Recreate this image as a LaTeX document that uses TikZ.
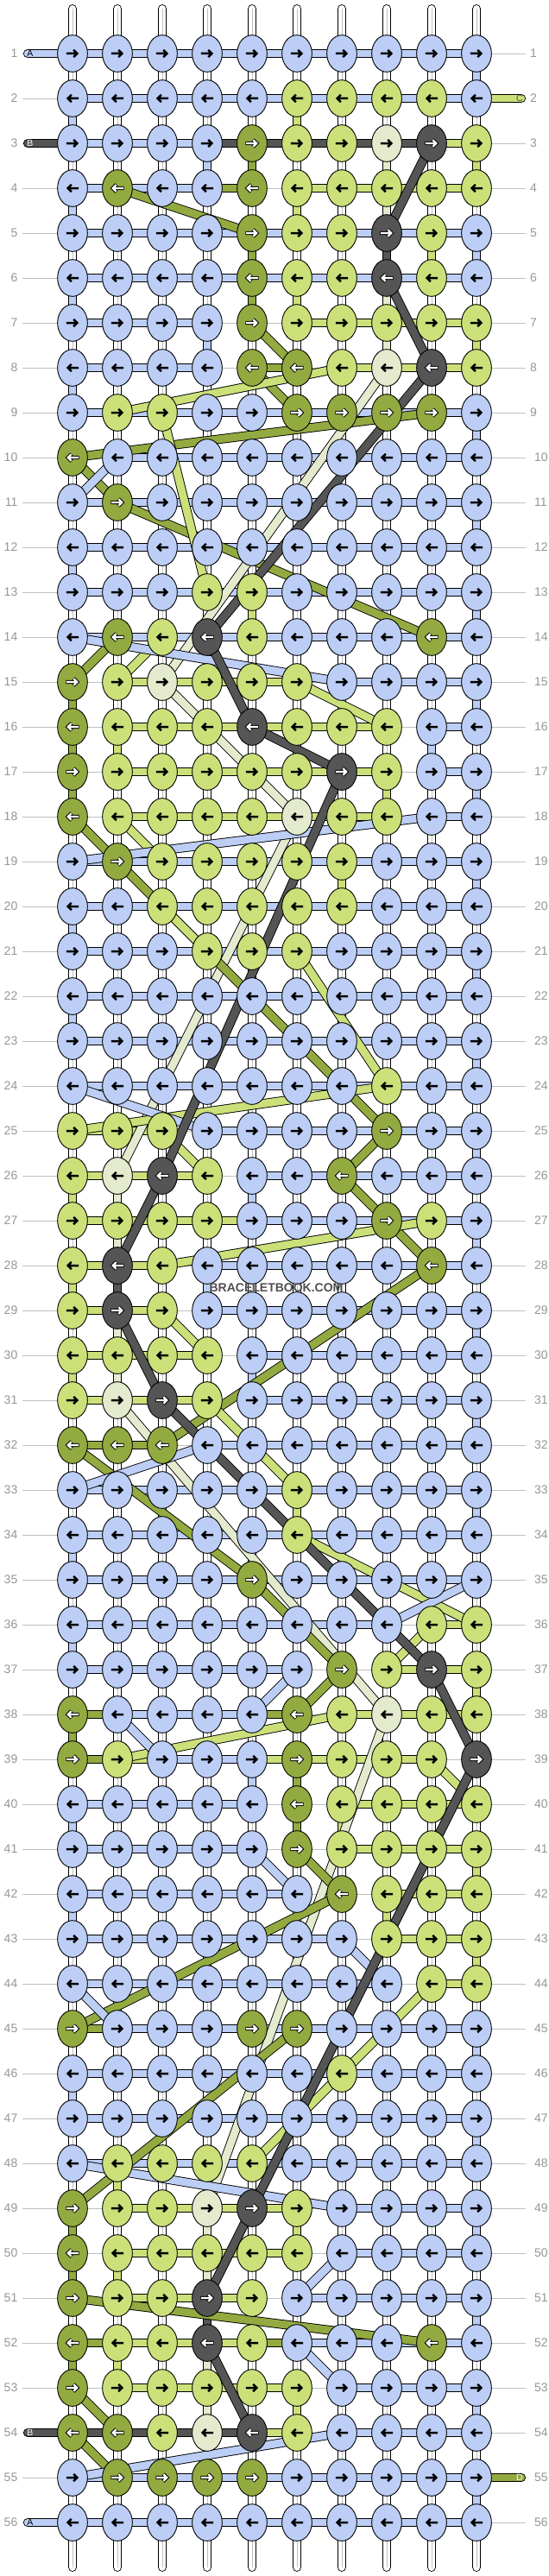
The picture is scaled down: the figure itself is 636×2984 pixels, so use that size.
\documentclass[tikz,border=0pt]{standalone}
\usepackage{fontspec}
\setmainfont{Liberation Sans}
\usetikzlibrary{shapes.geometric}
\definecolor{kb}{RGB}{188,206,245}
\definecolor{kl}{RGB}{204,224,122}
\definecolor{ko}{RGB}{147,170,64}
\definecolor{kd}{RGB}{85,85,85}
\definecolor{kw}{RGB}{228,234,206}
\definecolor{labgray}{RGB}{150,150,150}
\definecolor{linegray}{RGB}{192,192,192}
\definecolor{wmgray}{RGB}{80,80,80}
\tikzset{
  knot/.style={ellipse, draw=black, line width=0.9pt, minimum width=34.7pt, minimum height=42.7pt, inner sep=0pt, outer sep=0pt},
  arw/.style={line width=2.5pt, line cap=butt, line join=miter},
  rowlab/.style={text=labgray, font=\fontsize{14}{14}\selectfont, inner sep=0pt},
  strlab/.style={font=\fontsize{10.5}{10.5}\selectfont, inner sep=0pt},
  endout/.style={line width=10.7pt, draw=black, line cap=round},
  endin/.style={line width=8.9pt, line cap=round},
}
\makeatletter
\def\dotchar{.}
\def\ltrO{o}
\def\ltrD{d}
\newcommand\Band[3]{\edef\bname{k#1}%
  \draw[line width=10.7pt, black] (#2) -- (#3);
  \draw[line width=8.9pt, draw=\bname] (#2) -- (#3);}
\newcommand\RowH[2]{\def\kc{0}\@tfor\kch:=#2\do{%
  \pgfmathtruncatemacro\kc{\kc+1}%
  \ifx\kch\dotchar\else
    \pgfmathtruncatemacro\kn{\kc+1}%
    \Band{\kch}{p-#1-\kc}{p-#1-\kn}%
  \fi}}
\newcommand\RowV[2]{\pgfmathtruncatemacro\rn{#1+1}\def\kc{0}\@tfor\kch:=#2\do{%
  \pgfmathtruncatemacro\kc{\kc+1}%
  \ifx\kch\dotchar\else
    \Band{\kch}{p-#1-\kc}{p-\rn-\kc}%
  \fi}}
\newcommand\DoKnot[3]{%
  \edef\kname{k#3}%
  \node[knot, fill=\kname] (k-#1-#2) at (p-#1-#2) {};
  \ifodd#1\relax\def\adir{1}\else\def\adir{-1}\fi
  \ifx#3\ltrO\def\wa{1}\else\ifx#3\ltrD\def\wa{1}\else\def\wa{0}\fi\fi
  \begin{scope}[shift={(p-#1-#2)}, xscale=\adir]
  \ifnum\wa=1
    \draw[arw, line width=4.3pt, black] (-7.6,0) -- (5,0) (1.2,-4.2) -- (5.4,0) -- (1.2,4.2);
    \draw[arw, line width=2.3pt, white] (-6.8,0) -- (5,0) (1.4,-3.8) -- (5.2,0) -- (1.4,3.8);
  \else
    \draw[arw, black] (-7.2,0) -- (5,0) (1.2,-4.2) -- (5.4,0) -- (1.2,4.2);
  \fi
  \end{scope}}
\newcommand\RowKnots[2]{\def\kc{0}\@tfor\kch:=#2\do{%
  \pgfmathtruncatemacro\kc{\kc+1}%
  \DoKnot{#1}{\kc}{\kch}}}
\makeatother

\begin{document}
\begin{tikzpicture}[x=1pt,y=-1pt]
\fill[white] (0,0) rectangle (636,2984);
\useasboundingbox (0,0) rectangle (636,2984);
% knot positions
\foreach \r in {1,...,56}{\foreach \c in {1,...,10}{\coordinate (p-\r-\c) at ({32+52*\c},{10+52*\r});}}
% base strings
\foreach \c in {1,...,10}{
  \coordinate (t-\c) at ({32+52*\c},10.4);
  \coordinate (u-\c) at ({32+52*\c},2973.6);
  \draw[line width=10.7pt, black, line cap=round] (t-\c) -- (u-\c);
  \draw[line width=8.9pt, white, line cap=round] (t-\c) -- (u-\c);
  \draw[line width=0.7pt, linegray] (t-\c) -- (u-\c);
}
% row lines and labels
\foreach \r in {1,...,56}{
  \coordinate (gl-\r) at (26,{10+52*\r});
  \coordinate (gr-\r) at (609,{10+52*\r});
  \draw[line width=0.8pt, linegray] (gl-\r) -- (gr-\r);
  \node[rowlab, anchor=east] (ln-\r) at (20.5,{10+52*\r}) {\r};
  \ifnum\r<10
    \node[rowlab, anchor=west] (rn-\r) at (614,{10+52*\r}) {\r};
  \else
    \node[rowlab, anchor=west] (rn-\r) at (619,{10+52*\r}) {\r};
  \fi
}
% end strings
\coordinate (ea1) at (32.2,62);
\coordinate (eb3) at (32.2,166);
\coordinate (eb54) at (32.2,2818);
\coordinate (ea56) at (32.2,2922);
\coordinate (ec2) at (603.8,114);
\coordinate (ed55) at (603.8,2870);
\draw[endout] (ea1) -- (p-1-1); \draw[endin, kb] (ea1) -- (p-1-1);
\draw[endout] (eb3) -- (p-3-1); \draw[endin, kd] (eb3) -- (p-3-1);
\draw[endout] (eb54) -- (p-54-1); \draw[endin, kd] (eb54) -- (p-54-1);
\draw[endout] (ea56) -- (p-56-1); \draw[endin, kb] (ea56) -- (p-56-1);
\draw[endout] (p-2-10) -- (ec2); \draw[endin, kl] (p-2-10) -- (ec2);
\draw[endout] (p-55-10) -- (ed55); \draw[endin, ko] (p-55-10) -- (ed55);
\node[strlab, text=black] (sa1) at (35,62) {A};
\node[strlab, text=white] (sb3) at (35,166) {B};
\node[strlab, text=white] (sb54) at (35,2818) {B};
\node[strlab, text=black] (sa56) at (35,2922) {A};
\node[strlab, text=wmgray] (sc2) at (602,114) {C};
\node[strlab, text=white] (sd55) at (602,2870) {D};
% horizontal links
\RowH{1}{bbbbbbbbb}
\RowH{2}{bbbbbbbbb}
\RowH{3}{bbbdddddl}
\RowH{4}{bbbo.llll}
\RowH{5}{bbbbbbbbb}
\RowH{6}{bbbbbbbbb}
\RowH{7}{bbb..llll}
\RowH{8}{bbb.o.lll}
\RowH{9}{bbbbbbbbb}
\RowH{10}{.bbbbbbbb}
\RowH{11}{bbbbbbbbb}
\RowH{12}{bbbbbbbbb}
\RowH{13}{bbbbbbbbb}
\RowH{14}{bbbbbbbbb}
\RowH{15}{.llll.bbb}
\RowH{16}{.llllll.b}
\RowH{17}{.llllll.b}
\RowH{18}{.llllll.b}
\RowH{19}{bbbbbbbbb}
\RowH{20}{bbbbbbbbb}
\RowH{21}{bbbbbbbbb}
\RowH{22}{bbbbbbbbb}
\RowH{23}{bbbbbbbbb}
\RowH{24}{bbbbbbbbb}
\RowH{25}{ll.bbbbbb}
\RowH{26}{lll.bbbbb}
\RowH{27}{llllbbbbb}
\RowH{28}{ll.bbbbbb}
\RowH{29}{ll.bbbbbb}
\RowH{30}{lll.bbbbb}
\RowH{31}{lll.bbbbb}
\RowH{32}{oo.bbbbbb}
\RowH{33}{bbbbbbbbb}
\RowH{34}{bbbbbbbbb}
\RowH{35}{bbbbbbbbb}
\RowH{36}{bbbbbbb.l}
\RowH{37}{bbbbb..ll}
\RowH{38}{obbbo.lll}
\RowH{39}{olbbllll.}
\RowH{40}{bbbb..lll}
\RowH{41}{bbbb..lll}
\RowH{42}{bbbbb..ll}
\RowH{43}{bbbbbb.ll}
\RowH{44}{bbbbbbb.l}
\RowH{45}{obbbbbbbb}
\RowH{46}{bbbbbbbbb}
\RowH{47}{bbbbbbbbb}
\RowH{48}{bbbbbbbbb}
\RowH{49}{.llll.bbb}
\RowH{50}{.llll.bbb}
\RowH{51}{.lll.bbbb}
\RowH{52}{olllobbbb}
\RowH{53}{.llll.bbb}
\RowH{54}{ddddl.bbb}
\RowH{55}{bbbbbbbbb}
\RowH{56}{bbbbbbbbb}
% vertical links
\RowV{1}{.........b}
\RowV{2}{b....l....}
\RowV{3}{...bo..w.l}
\RowV{4}{b....l.w..}
\RowV{5}{....o..dlb}
\RowV{6}{b...ol.w..}
\RowV{7}{...b...w.l}
\RowV{8}{b.........}
\RowV{9}{.........b}
\RowV{11}{.........b}
\RowV{12}{b.........}
\RowV{13}{....l....b}
\RowV{15}{o........b}
\RowV{16}{ol......b.}
\RowV{17}{o......l.b}
\RowV{19}{......l..b}
\RowV{20}{b.........}
\RowV{21}{.........b}
\RowV{22}{b.........}
\RowV{23}{.........b}
\RowV{25}{.........b}
\RowV{26}{lw..b.....}
\RowV{27}{.w.......b}
\RowV{28}{ld.b......}
\RowV{29}{.w.......b}
\RowV{30}{lw..b.....}
\RowV{31}{.........b}
\RowV{33}{.....l...b}
\RowV{34}{b.........}
\RowV{36}{b.........}
\RowV{37}{.........l}
\RowV{38}{o.........}
\RowV{39}{....bo....}
\RowV{40}{b....ol...}
\RowV{41}{.........l}
\RowV{42}{b......l..}
\RowV{43}{.........l}
\RowV{45}{.........b}
\RowV{46}{b.........}
\RowV{47}{.........b}
\RowV{48}{.l........}
\RowV{49}{o..w.l...b}
\RowV{50}{ol.w......}
\RowV{51}{...dl....b}
\RowV{52}{ol.w......}
\RowV{53}{...w.l...b}
\RowV{55}{.........b}
% diagonal links: cream
\Band{w}{p-8-8}{p-15-3}
\Band{w}{p-15-3}{p-18-6}
\Band{w}{p-18-6}{p-26-2}
\Band{w}{p-31-2}{p-38-8}
\Band{w}{p-38-8}{p-49-4}
% olive
\Band{o}{p-4-2}{p-5-5}
\Band{o}{p-7-5}{p-8-6}
\Band{o}{p-8-5}{p-9-6}
\Band{o}{p-9-9}{p-10-1}
\Band{o}{p-10-1}{p-11-2}
\Band{o}{p-11-2}{p-14-9}
\Band{o}{p-14-2}{p-15-1}
\Band{o}{p-18-1}{p-19-2}
\Band{o}{p-19-2}{p-25-8}
\Band{o}{p-25-8}{p-26-7}
\Band{o}{p-26-7}{p-27-8}
\Band{o}{p-27-8}{p-28-9}
\Band{o}{p-28-9}{p-32-3}
\Band{o}{p-32-1}{p-35-5}
\Band{o}{p-35-5}{p-37-7}
\Band{o}{p-37-7}{p-38-6}
\Band{o}{p-41-6}{p-42-7}
\Band{o}{p-42-7}{p-45-1}
\Band{o}{p-45-6}{p-49-1}
\Band{o}{p-51-1}{p-52-9}
\Band{o}{p-53-1}{p-54-2}
\Band{o}{p-54-1}{p-55-2}
% light green
\Band{l}{p-8-7}{p-9-2}
\Band{l}{p-9-3}{p-13-4}
\Band{l}{p-14-3}{p-15-2}
\Band{l}{p-15-6}{p-16-8}
\Band{l}{p-18-2}{p-19-3}
\Band{l}{p-20-3}{p-21-4}
\Band{l}{p-21-6}{p-24-8}
\Band{l}{p-24-8}{p-25-1}
\Band{l}{p-25-3}{p-26-4}
\Band{l}{p-27-9}{p-28-3}
\Band{l}{p-29-3}{p-30-4}
\Band{l}{p-31-4}{p-33-6}
\Band{l}{p-34-6}{p-36-10}
\Band{l}{p-36-9}{p-37-8}
\Band{l}{p-38-7}{p-39-2}
\Band{l}{p-39-9}{p-40-10}
\Band{l}{p-44-9}{p-48-5}
% blue
\Band{b}{p-10-2}{p-11-1}
\Band{b}{p-14-1}{p-15-7}
\Band{b}{p-18-9}{p-19-1}
\Band{b}{p-24-1}{p-25-4}
\Band{b}{p-32-4}{p-33-1}
\Band{b}{p-35-10}{p-36-8}
\Band{b}{p-37-6}{p-38-5}
\Band{b}{p-38-2}{p-39-3}
\Band{b}{p-41-5}{p-42-6}
\Band{b}{p-43-7}{p-44-8}
\Band{b}{p-44-1}{p-45-2}
\Band{b}{p-48-1}{p-49-7}
\Band{b}{p-50-7}{p-51-6}
\Band{b}{p-52-6}{p-53-7}
\Band{b}{p-54-7}{p-55-1}
% dark
\Band{d}{p-3-9}{p-5-8}
\Band{d}{p-6-8}{p-8-9}
\Band{d}{p-8-9}{p-14-4}
\Band{d}{p-14-4}{p-16-5}
\Band{d}{p-16-5}{p-17-7}
\Band{d}{p-17-7}{p-26-3}
\Band{d}{p-26-3}{p-28-2}
\Band{d}{p-29-2}{p-31-3}
\Band{d}{p-31-3}{p-37-9}
\Band{d}{p-37-9}{p-39-10}
\Band{d}{p-39-10}{p-49-5}
\Band{d}{p-49-5}{p-51-4}
\Band{d}{p-52-4}{p-54-5}
% knots
\RowKnots{1}{bbbbbbbbbb}
\RowKnots{2}{bbbbbllllb}
\RowKnots{3}{bbbbollwdl}
\RowKnots{4}{bobbolllll}
\RowKnots{5}{bbbbolldlb}
\RowKnots{6}{bbbbolldlb}
\RowKnots{7}{bbbbolllll}
\RowKnots{8}{bbbboolwdl}
\RowKnots{9}{bllbboooob}
\RowKnots{10}{obbbbbbbbb}
\RowKnots{11}{bobbbbbbbb}
\RowKnots{12}{bbbbbbbbbb}
\RowKnots{13}{bbbllbbbbb}
\RowKnots{14}{boldlbbbob}
\RowKnots{15}{olwlllbbbb}
\RowKnots{16}{oll ldlllbb}
\RowKnots{17}{ollllldlbb}
\RowKnots{18}{ollllwllbb}
\RowKnots{19}{bolllllbbb}
\RowKnots{20}{bblllllbbb}
\RowKnots{21}{bbblllbbbb}
\RowKnots{22}{bbbbbbbbbb}
\RowKnots{23}{bbbbbbbbbb}
\RowKnots{24}{bbbbbbblbb}
\RowKnots{25}{lllbbbbobb}
\RowKnots{26}{lwdlbbobbb}
\RowKnots{27}{llllbbbolb}
\RowKnots{28}{ldlbbbbbob}
\RowKnots{29}{ldlbbbbbbb}
\RowKnots{30}{llllbbbbbb}
\RowKnots{31}{lwdlbbbbbb}
\RowKnots{32}{ooobbbbbbb}
\RowKnots{33}{bbbbblbbbb}
\RowKnots{34}{bbbbblbbbb}
\RowKnots{35}{bbbbobbbbb}
\RowKnots{36}{bbbbbbbbll}
\RowKnots{37}{bbbbbboldl}
\RowKnots{38}{obbbbolwll}
\RowKnots{39}{olbbbollld}
\RowKnots{40}{bbbbbollll}
\RowKnots{41}{bbbbbollll}
\RowKnots{42}{bbbbbbolll}
\RowKnots{43}{bbbbbbblll}
\RowKnots{44}{bbbbbbbbll}
\RowKnots{45}{obbboobbbb}
\RowKnots{46}{bbbbbblbbb}
\RowKnots{47}{bbbbbbbbbb}
\RowKnots{48}{bllllbbbbb}
\RowKnots{49}{ollwdlbbbb}
\RowKnots{50}{olllllbbbb}
\RowKnots{51}{olldlbbbbb}
\RowKnots{52}{olldlbbbob}
\RowKnots{53}{olllllbbbb}
\RowKnots{54}{oolwdlbbbb}
\RowKnots{55}{boooobbbbb}
\RowKnots{56}{bbbbbbbbbb}
% watermark
\node[font=\bfseries\fontsize{14}{14}\selectfont, text=wmgray, inner sep=0pt] (wm) at (320,1492) {BRACELETBOOK.COM};
\end{tikzpicture}
\end{document}
